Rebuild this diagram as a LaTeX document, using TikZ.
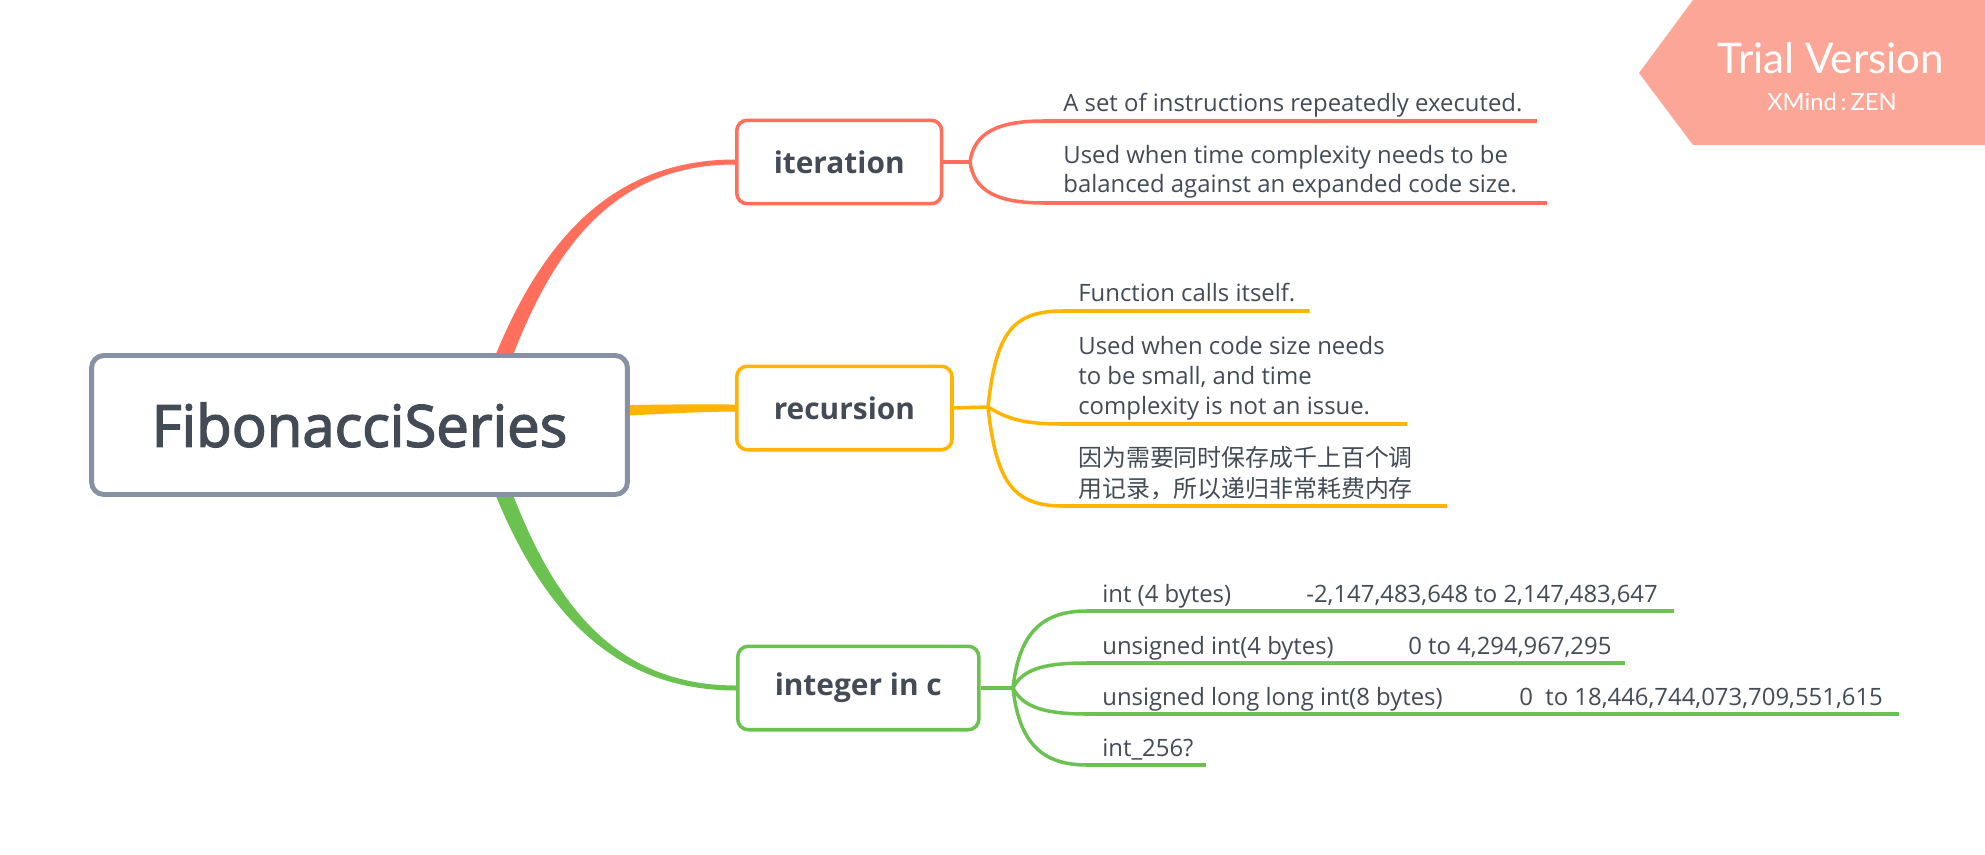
\documentclass[tikz,border=0pt]{standalone}
\usepackage{fontspec}
\setmainfont{Open Sans}
\newfontfamily\cjk{Noto Sans CJK SC}
\newfontfamily\titlefont[FakeBold=2.5]{Open Sans}
\newfontfamily\bannerfont{Lato}
\usetikzlibrary{calc,backgrounds}

\definecolor{ink}{RGB}{67,75,86}
\definecolor{rootgray}{RGB}{134,145,163}
\definecolor{xred}{RGB}{255,111,92}
\definecolor{xorange}{RGB}{255,180,0}
\definecolor{xgreen}{RGB}{108,194,80}
\definecolor{banner}{RGB}{252,166,151}

\begin{document}
\begin{tikzpicture}  % ------ FibonacciSeries mind map -------------------
      [x=0.02cm,y=-0.02cm,
       root/.style={draw=rootgray,line width=2.8pt,rounded corners=7pt,fill=white,
         minimum width=10.72cm,minimum height=2.78cm,text=ink,font=\titlefont\fontsize{33}{40}\selectfont},
       branch/.style={draw=#1,line width=2pt,rounded corners=6pt,fill=white,anchor=west,
         minimum height=1.67cm,inner xsep=0.74cm,text=ink,font=\bfseries\fontsize{17}{20}\selectfont},
       leaf/.style={anchor=base west,inner sep=0pt,align=left,text=ink,font=\fontsize{13.6}{17}\selectfont},
       twig/.style={draw=#1,line width=2pt}]

    \useasboundingbox (0,0) rectangle (1985,855);

    \node[root] (root) at (359.5,425) {FibonacciSeries};
    \node[branch=xred] (iter) at (735,162) {iteration};
    \node[branch=xorange] (recu) at (735,408) {recursion};
    \node[branch=xgreen] (intc) at (736,688) {integer in c};

    \coordinate (f1) at (970,162);  \coordinate (f2) at (988,407);  \coordinate (f3) at (1013,688);

    % leaves of iteration (base = last line)
    \node[leaf] (it1) at (1063,112) {A set of instructions repeatedly executed.};
    \node[leaf] (it2) at (1063,193) {Used when time complexity needs to be\\balanced against an expanded code size.};
    \coordinate (it1s) at (1044,121);  \coordinate (it2s) at (1044,203);

    % leaves of recursion
    \node[leaf] (re1) at (1078,301) {Function calls itself.};
    \node[leaf] (re2) at (1078,414) {Used when code size needs\\to be small, and time\\complexity is not an issue.};
    \node[leaf,font=\cjk\fontsize{13.6}{17.5}\selectfont] (re3) at (1078,497) {因为需要同时保存成千上百个调\\用记录，所以递归非常耗费内存};
    \coordinate (re1s) at (1063,311);  \coordinate (re2s) at (1063,424);  \coordinate (re3s) at (1063,506);

    % leaves of integer in c
    \node[leaf] (in1) at (1102,602) {\makebox[4.08cm][l]{int (4 bytes)}-2,147,483,648 to 2,147,483,647};
    \node[leaf] (in2) at (1102,654) {\makebox[6.12cm][l]{unsigned int(4 bytes)}0 to 4,294,967,295};
    \node[leaf] (in3) at (1102,705) {\makebox[8.34cm][l]{unsigned long long int(8 bytes)}0~ to 18,446,744,073,709,551,615};
    \node[leaf] (in4) at (1102,756) {int\_256?};
    \coordinate (in1s) at (1087,611);  \coordinate (in2s) at (1087,663);
    \coordinate (in3s) at (1087,714);  \coordinate (in4s) at (1087,765);

    \begin{scope}[on background layer]
      \fill[white] (0,0) rectangle (1985,855);
      \fill[xred] (484,385) .. controls (530,258) and (600,159.5) .. ($(iter.west)+(0,-2.5)$)
          -- ($(iter.west)+(0,2.5)$) .. controls (604,164.5) and (545,262) .. (502,385) -- cycle;
      \fill[xorange] (600,406) .. controls (660,404) and (690,404.5) .. ($(recu.west)+(0,-3.5)$)
          -- ($(recu.west)+(0,3.5)$) .. controls (690,412) and (660,414) .. (600,417) -- cycle;
      \fill[xgreen] (484,465) .. controls (530,592) and (600,690.5) .. ($(intc.west)+(0,2.5)$)
          -- ($(intc.west)+(0,-2.5)$) .. controls (604,685.5) and (545,588) .. (502,465) -- cycle;
    \end{scope}

    \draw[twig=xred] (iter.east) -- (f1);
    \draw[twig=xred] (f1) .. controls +(4,-30) and +(-45,0) .. (it1s) -- ($(it1.east |- it1s)+(14,0)$);
    \draw[twig=xred] (f1) .. controls +(4,30) and +(-45,0) .. (it2s) -- ($(it2.east |- it2s)+(30,0)$);

    \draw[twig=xorange] (recu.east) -- (f2);
    \draw[twig=xorange] (f2) .. controls +(8,-75) and +(-50,0) .. (re1s) -- ($(re1.east |- re1s)+(14,0)$);
    \draw[twig=xorange] (f2) .. controls +(20,12) and +(-40,0) .. (re2s) -- ($(re2.east |- re2s)+(22,0)$);
    \draw[twig=xorange] (f2) .. controls +(8,75) and +(-50,0) .. (re3s) -- ($(re3.east |- re3s)+(34,0)$);

    \draw[twig=xgreen] (intc.east) -- (f3);
    \draw[twig=xgreen] (f3) .. controls +(6,-55) and +(-45,0) .. (in1s) -- ($(in1.east |- in1s)+(16,0)$);
    \draw[twig=xgreen] (f3) .. controls +(10,-20) and +(-40,0) .. (in2s) -- ($(in2.east |- in2s)+(13,0)$);
    \draw[twig=xgreen] (f3) .. controls +(10,20) and +(-40,0) .. (in3s) -- ($(in3.east |- in3s)+(16,0)$);
    \draw[twig=xgreen] (f3) .. controls +(6,55) and +(-45,0) .. (in4s) -- ($(in4.east |- in4s)+(12,0)$);

    % trial banner
    \fill[banner] (1693,0) -- (1985,0) -- (1985,145) -- (1693,145) -- (1639,73) -- cycle;
    \node[anchor=base,text=white,font=\bannerfont\fontsize{24}{28}\selectfont] (trial) at (1831,74) {Trial Version};
    \node[anchor=base,text=white,font=\bannerfont\fontsize{13.5}{16}\selectfont] (zen) at (1832,111) {XMind\,:\,ZEN};
\end{tikzpicture}
\end{document}
